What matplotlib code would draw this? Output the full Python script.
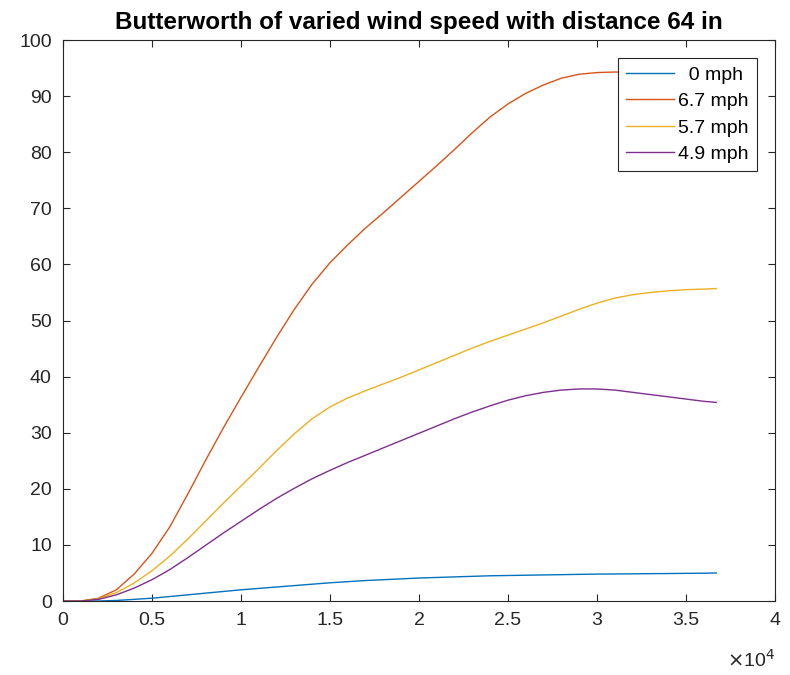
#!/usr/bin/env python3
import matplotlib
matplotlib.use('Agg')
import matplotlib.pyplot as plt

# sample positions (raw units, axis shows x10^4)
x = [0, 1000, 2000, 3000, 4000, 5000, 6000, 7000, 8000, 9000,
     10000, 11000, 12000, 13000, 14000, 15000, 16000, 17000, 18000, 19000,
     20000, 21000, 22000, 23000, 24000, 25000, 26000, 27000, 28000, 29000,
     30000, 31000, 32000, 33000, 34000, 35000, 36000, 36700]

mph_0 = [0, 0, 0, 0.1, 0.3, 0.5, 0.8, 1.1, 1.4, 1.7,
         2.0, 2.25, 2.5, 2.75, 3.0, 3.25, 3.45, 3.65, 3.8, 3.95,
         4.1, 4.2, 4.3, 4.4, 4.5, 4.55, 4.6, 4.65, 4.7, 4.75,
         4.8, 4.82, 4.85, 4.88, 4.9, 4.93, 4.96, 5.0]
mph_6_7 = [0, 0, 0.5, 2.0, 4.8, 8.5, 13.2, 19.0, 25.0, 30.8,
           36.3, 41.7, 47.0, 52.0, 56.5, 60.3, 63.5, 66.5, 69.2, 72.0,
           74.8, 77.6, 80.5, 83.5, 86.3, 88.6, 90.5, 92.0, 93.2, 93.9,
           94.2, 94.3, 94.2, 94.1, 94.0, 93.9, 93.8, 93.8]
mph_5_7 = [0, 0, 0.4, 1.5, 3.2, 5.4, 8.0, 11.0, 14.2, 17.4,
           20.5, 23.6, 26.8, 29.8, 32.5, 34.6, 36.2, 37.5, 38.7, 39.9,
           41.2, 42.5, 43.8, 45.1, 46.3, 47.4, 48.5, 49.6, 50.8, 52.0,
           53.1, 54.0, 54.6, 55.0, 55.3, 55.5, 55.6, 55.7]
mph_4_9 = [0, 0, 0.3, 1.1, 2.3, 3.8, 5.6, 7.7, 9.9, 12.1,
           14.2, 16.3, 18.3, 20.1, 21.8, 23.3, 24.7, 26.0, 27.3, 28.6,
           29.9, 31.2, 32.5, 33.7, 34.8, 35.8, 36.6, 37.2, 37.6, 37.8,
           37.8, 37.6, 37.2, 36.8, 36.4, 36.0, 35.6, 35.4]

labels = ['  0 mph', '6.7 mph', '5.7 mph', '4.9 mph']
colors = ['#0072BD', '#D95319', '#EDB120', '#7E2F8E']

x_ticks = [0, 5000, 10000, 15000, 20000, 25000, 30000, 35000, 40000]
x_tick_labels = ['0', '0.5', '1', '1.5', '2', '2.5', '3', '3.5', '4']
y_ticks = list(range(0, 101, 10))

plt.rcParams['font.family'] = ['Liberation Sans', 'DejaVu Sans']
axis_grey = '#262626'

fig = plt.figure(figsize=(7.9, 6.75), dpi=100)
ax = fig.add_axes([0.0797, 0.1096, 0.9013, 0.8311])

for series, lab, col in zip([mph_0, mph_6_7, mph_5_7, mph_4_9], labels, colors):
    ax.plot(x, series, color=col, linewidth=1.0, label=lab)

ax.set_xlim(0, 40000)
ax.set_ylim(0, 100)
ax.set_xticks(x_ticks)
ax.set_xticklabels(x_tick_labels)
ax.set_yticks(y_ticks)
ax.tick_params(direction='in', length=5, width=0.8, top=True, right=True,
               labelsize=14, colors=axis_grey, pad=8)
for sp in ax.spines.values():
    sp.set_color(axis_grey)
    sp.set_linewidth(0.8)

ax.set_title('Butterworth of varied wind speed with distance 64 in',
             fontsize=17.5, fontweight='bold', pad=8)

ax.text(1.0, -0.085, r'$\times$10$^4$', transform=ax.transAxes,
        ha='right', va='top', fontsize=14, color=axis_grey)

leg = ax.legend(loc='upper right', fontsize=14, handlelength=2.5,
                handletextpad=0.2, borderaxespad=0.95, labelspacing=0.45,
                fancybox=False, framealpha=1, borderpad=0.4)
leg.get_frame().set_edgecolor(axis_grey)
leg.get_frame().set_linewidth(0.8)

fig.savefig('out.png', dpi=100)
